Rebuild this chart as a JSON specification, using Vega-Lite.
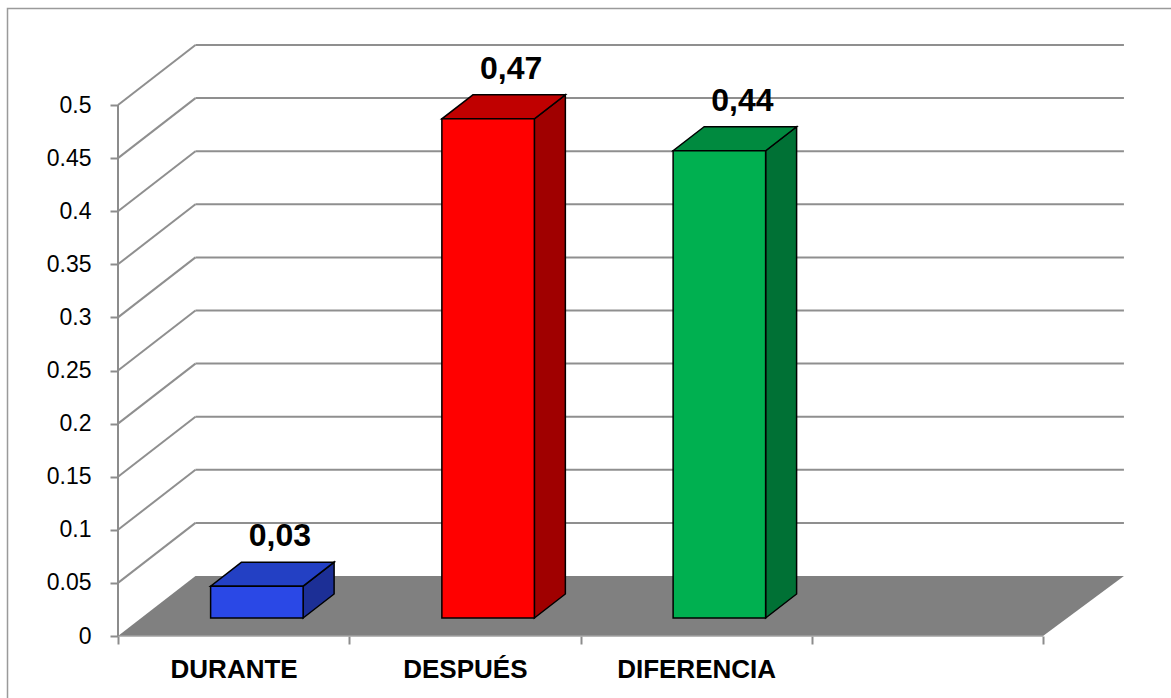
{
  "$schema": "https://vega.github.io/schema/vega-lite/v6.json",
  "width": 1171,
  "height": 698,
  "autosize": "none",
  "padding": 0,
  "background": "white",
  "config": {"view": {"stroke": null}, "font": "Liberation Sans"},
  "datasets": {
    "barras": [
      {"categoria": "DURANTE", "valor": 0.03},
      {"categoria": "DESPUÉS", "valor": 0.47},
      {"categoria": "DIFERENCIA", "valor": 0.44}
    ],
    "marcas": [
      {"v": 0}, {"v": 0.05}, {"v": 0.1}, {"v": 0.15}, {"v": 0.2}, {"v": 0.25},
      {"v": 0.3}, {"v": 0.35}, {"v": 0.4}, {"v": 0.45}, {"v": 0.5}
    ]
  },
  "layer": [
    {
      "data": {"name": "marcas"},
      "transform": [
        {"filter": "datum.v == 0"},
        {"calculate": "[0, 1]", "as": "t"},
        {"flatten": ["t"]},
        {"calculate": "datum.v + datum.t * 0.0565", "as": "fy"},
        {"calculate": "datum.t * 0.335", "as": "fx"},
        {"calculate": "4 + datum.t * 0.35", "as": "fx2"}
      ],
      "mark": {"type": "area", "orient": "horizontal", "color": "#808080"},
      "encoding": {
        "y": {
          "field": "fy", "type": "quantitative", "title": null,
          "scale": {"domain": [-0.05838, 0.59887], "nice": false, "zero": false},
          "axis": {
            "orient": "left", "offset": -118, "title": null,
            "values": [0, 0.05, 0.1, 0.15, 0.2, 0.25, 0.3, 0.35, 0.4, 0.45, 0.5],
            "labelExpr": "'' + datum.value",
            "domain": false, "grid": false,
            "ticks": true, "tickSize": 8, "tickColor": "#8c8c8c", "tickWidth": 2,
            "labelFont": "Liberation Sans", "labelFontSize": 23, "labelColor": "#000000",
            "labelPadding": 19, "labelFlush": false, "labelOverlap": false, "labelBound": false
          }
        },
        "x": {
          "field": "fx", "type": "quantitative", "title": null,
          "scale": {"domain": [-0.51027, 4.55351], "nice": false, "zero": false},
          "axis": {
            "orient": "bottom", "offset": -62, "title": null,
            "values": [0, 1, 2, 3, 4],
            "labelExpr": "datum.value == 0 ? 'DURANTE' : datum.value == 1 ? 'DESPUÉS' : datum.value == 2 ? 'DIFERENCIA' : ''",
            "labelOffset": 115.6,
            "domain": false, "grid": false,
            "ticks": true, "tickSize": 8, "tickColor": "#8c8c8c", "tickWidth": 2,
            "labelFont": "Liberation Sans", "labelFontSize": 26, "labelFontWeight": "bold", "labelColor": "#000000",
            "labelPadding": 12, "labelFlush": false, "labelOverlap": false, "labelBound": false
          }
        },
        "x2": {"field": "fx2"}
      }
    },
    {
      "data": {"values": [{}]},
      "mark": {"type": "rect", "fill": null, "stroke": "#9a9a9a", "strokeWidth": 1.5, "clip": true},
      "encoding": {
        "x": {"datum": -0.4778, "type": "quantitative", "title": null, "scale": {"domain": [-0.51027, 4.55351], "nice": false, "zero": false}},
        "x2": {"datum": 4.8},
        "y": {"datum": 0.5909, "type": "quantitative", "title": null, "scale": {"domain": [-0.05838, 0.59887], "nice": false, "zero": false}},
        "y2": {"datum": -0.2}
      }
    },
    {
      "data": {"name": "marcas"},
      "transform": [
        {"filter": "datum.v > 0"},
        {"calculate": "datum.v + 0.0565", "as": "vb"}
      ],
      "mark": {"type": "rule", "color": "#8f8f8f", "strokeWidth": 2},
      "encoding": {
        "x": {"datum": 0, "type": "quantitative", "title": null, "scale": {"domain": [-0.51027, 4.55351], "nice": false, "zero": false}},
        "x2": {"datum": 0.335},
        "y": {"field": "v", "type": "quantitative", "title": null, "scale": {"domain": [-0.05838, 0.59887], "nice": false, "zero": false}},
        "y2": {"field": "vb"}
      }
    },
    {
      "data": {"name": "marcas"},
      "transform": [
        {"filter": "datum.v > 0"},
        {"calculate": "datum.v + 0.0565", "as": "vb"}
      ],
      "mark": {"type": "rule", "color": "#8f8f8f", "strokeWidth": 2},
      "encoding": {
        "x": {"datum": 0.335, "type": "quantitative", "title": null, "scale": {"domain": [-0.51027, 4.55351], "nice": false, "zero": false}},
        "x2": {"datum": 4.35},
        "y": {"field": "vb", "type": "quantitative", "title": null, "scale": {"domain": [-0.05838, 0.59887], "nice": false, "zero": false}}
      }
    },
    {
      "data": {"values": [{}]},
      "mark": {"type": "rule", "color": "#a0a0a0", "strokeWidth": 1.5},
      "encoding": {
        "x": {"datum": 0, "type": "quantitative", "title": null, "scale": {"domain": [-0.51027, 4.55351], "nice": false, "zero": false}},
        "x2": {"datum": 4},
        "y": {"datum": 0, "type": "quantitative", "title": null, "scale": {"domain": [-0.05838, 0.59887], "nice": false, "zero": false}}
      }
    },
    {
      "data": {"values": [{}]},
      "mark": {"type": "rule", "color": "#8c8c8c", "strokeWidth": 2},
      "encoding": {
        "x": {"datum": 0, "type": "quantitative", "title": null, "scale": {"domain": [-0.51027, 4.55351], "nice": false, "zero": false}},
        "y": {"datum": 0, "type": "quantitative", "title": null, "scale": {"domain": [-0.05838, 0.59887], "nice": false, "zero": false}},
        "y2": {"datum": 0.5}
      }
    },
    {
      "data": {"name": "barras"},
      "transform": [
        {"calculate": "indexof(['DURANTE','DESPUÉS','DIFERENCIA'], datum.categoria) + 0.5", "as": "c"},
        {"calculate": "[0, 1]", "as": "t"},
        {"flatten": ["t"]},
        {"calculate": "0.3 + 0.4 * datum.t", "as": "k"},
        {"calculate": "datum.c + 0.2 + datum.k * 0.335", "as": "xs"},
        {"calculate": "datum.k * 0.0565", "as": "ys"},
        {"calculate": "datum.valor + datum.k * 0.0565", "as": "ys2"}
      ],
      "mark": {"type": "area", "orient": "vertical", "stroke": "#000000", "strokeWidth": 1.5, "fillOpacity": 1},
      "encoding": {
        "x": {"field": "xs", "type": "quantitative", "title": null, "scale": {"domain": [-0.51027, 4.55351], "nice": false, "zero": false}},
        "y": {"field": "ys", "type": "quantitative", "title": null, "scale": {"domain": [-0.05838, 0.59887], "nice": false, "zero": false}},
        "y2": {"field": "ys2"},
        "detail": {"field": "categoria"},
        "fill": {"field": "categoria", "type": "nominal", "scale": {"domain": ["DURANTE", "DESPUÉS", "DIFERENCIA"], "range": ["#1c2f96", "#a00000", "#007135"]}, "legend": null}
      }
    },
    {
      "data": {"name": "barras"},
      "transform": [
        {"calculate": "indexof(['DURANTE','DESPUÉS','DIFERENCIA'], datum.categoria) + 0.5", "as": "c"},
        {"calculate": "[0, 1]", "as": "t"},
        {"flatten": ["t"]},
        {"calculate": "0.3 + 0.4 * datum.t", "as": "k"},
        {"calculate": "datum.valor + datum.k * 0.0565", "as": "yt"},
        {"calculate": "datum.c - 0.2 + datum.k * 0.335", "as": "xt"},
        {"calculate": "datum.c + 0.2 + datum.k * 0.335", "as": "xt2"}
      ],
      "mark": {"type": "area", "orient": "horizontal", "stroke": "#000000", "strokeWidth": 1.5, "fillOpacity": 1},
      "encoding": {
        "y": {"field": "yt", "type": "quantitative", "title": null, "scale": {"domain": [-0.05838, 0.59887], "nice": false, "zero": false}},
        "x": {"field": "xt", "type": "quantitative", "title": null, "scale": {"domain": [-0.51027, 4.55351], "nice": false, "zero": false}},
        "x2": {"field": "xt2"},
        "detail": {"field": "categoria"},
        "color": {"field": "categoria", "type": "nominal", "scale": {"domain": ["DURANTE", "DESPUÉS", "DIFERENCIA"], "range": ["#2340c4", "#c00000", "#008a3f"]}, "legend": null}
      }
    },
    {
      "data": {"name": "barras"},
      "transform": [
        {"calculate": "indexof(['DURANTE','DESPUÉS','DIFERENCIA'], datum.categoria) + 0.5", "as": "c"},
        {"calculate": "datum.c - 0.2 + 0.3 * 0.335", "as": "xf"},
        {"calculate": "datum.c + 0.2 + 0.3 * 0.335", "as": "xf2"},
        {"calculate": "0.3 * 0.0565", "as": "yf"},
        {"calculate": "datum.valor + 0.3 * 0.0565", "as": "yf2"}
      ],
      "mark": {"type": "rect", "stroke": "#000000", "strokeWidth": 1.5},
      "encoding": {
        "x": {"field": "xf", "type": "quantitative", "title": null, "scale": {"domain": [-0.51027, 4.55351], "nice": false, "zero": false}},
        "x2": {"field": "xf2"},
        "y": {"field": "yf", "type": "quantitative", "title": null, "scale": {"domain": [-0.05838, 0.59887], "nice": false, "zero": false}},
        "y2": {"field": "yf2"},
        "fill": {"field": "categoria", "type": "nominal", "scale": {"domain": ["DURANTE", "DESPUÉS", "DIFERENCIA"], "range": ["#2a48e6", "#ff0000", "#00b050"]}, "legend": null}
      }
    },
    {
      "data": {"name": "barras"},
      "transform": [
        {"calculate": "indexof(['DURANTE','DESPUÉS','DIFERENCIA'], datum.categoria) + 0.5", "as": "c"},
        {"calculate": "datum.c + 0.2", "as": "xl"},
        {"calculate": "datum.valor + 0.7 * 0.0565", "as": "yl"},
        {"calculate": "replace(format(datum.valor, '.2f'), '.', ',')", "as": "etiqueta"}
      ],
      "mark": {"type": "text", "font": "Liberation Sans", "fontSize": 32, "fontWeight": "bold", "color": "#000000", "align": "center", "baseline": "alphabetic", "dy": -16},
      "encoding": {
        "x": {"field": "xl", "type": "quantitative", "title": null, "scale": {"domain": [-0.51027, 4.55351], "nice": false, "zero": false}},
        "y": {"field": "yl", "type": "quantitative", "title": null, "scale": {"domain": [-0.05838, 0.59887], "nice": false, "zero": false}},
        "text": {"field": "etiqueta", "type": "nominal"}
      }
    }
  ],
  "resolve": {"scale": {"color": "independent", "fill": "independent"}}
}
